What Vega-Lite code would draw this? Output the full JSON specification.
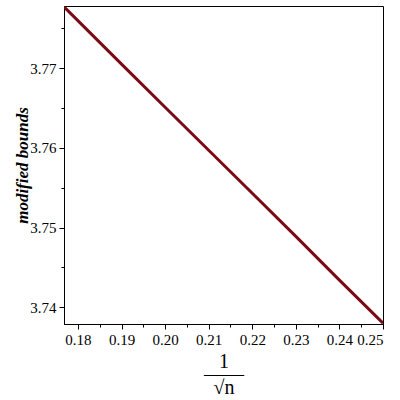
{
  "$schema": "https://vega.github.io/schema/vega-lite/v6.json",
  "autosize": "none",
  "width": 319,
  "height": 318,
  "padding": {"left": 64, "top": 6, "right": 17, "bottom": 76},
  "background": "white",
  "config": {
    "view": {"stroke": "black", "strokeWidth": 1},
    "axis": {
      "grid": false,
      "domainColor": "black",
      "tickColor": "black",
      "labelColor": "black",
      "titleColor": "black"
    }
  },
  "data": {
    "values": [
      {"x": 0.1768, "y": 3.7777},
      {"x": 0.19, "y": 3.7705},
      {"x": 0.20, "y": 3.7651},
      {"x": 0.21, "y": 3.7597},
      {"x": 0.22, "y": 3.7543},
      {"x": 0.23, "y": 3.7489},
      {"x": 0.24, "y": 3.7434},
      {"x": 0.25, "y": 3.7380}
    ]
  },
  "mark": {"type": "line", "color": "#7a0a14", "strokeWidth": 3, "clip": true},
  "encoding": {
    "x": {
      "field": "x",
      "type": "quantitative",
      "scale": {"domain": [0.1768, 0.25], "nice": false, "zero": false},
      "axis": {
        "values": [0.18, 0.185, 0.19, 0.195, 0.2, 0.205, 0.21, 0.215, 0.22, 0.225, 0.23, 0.235, 0.24, 0.245, 0.25],
        "labelExpr": "abs(datum.value*100 - round(datum.value*100)) < 0.000001 ? format(datum.value, '.2f') : ''",
        "tickSize": {"condition": {"test": "abs(datum.value*100 - round(datum.value*100)) < 0.000001", "value": 5}, "value": 3},
        "labelPadding": 3,
        "labelFont": "Liberation Serif",
        "labelFontSize": 15,
        "title": ["1", "——", "√n"],
        "titleFont": "Liberation Serif",
        "titleFontSize": 20,
        "titleFontWeight": "normal",
        "titleLineHeight": 13,
        "titlePadding": 4
      }
    },
    "y": {
      "field": "y",
      "type": "quantitative",
      "scale": {"domain": [3.7379, 3.7778], "nice": false, "zero": false},
      "axis": {
        "values": [3.74, 3.745, 3.75, 3.755, 3.76, 3.765, 3.77, 3.775],
        "labelExpr": "abs(datum.value*100 - round(datum.value*100)) < 0.000001 ? format(datum.value, '.2f') : ''",
        "tickSize": {"condition": {"test": "abs(datum.value*100 - round(datum.value*100)) < 0.000001", "value": 5}, "value": 3},
        "labelPadding": 3,
        "labelFont": "Liberation Serif",
        "labelFontSize": 15,
        "title": "modified bounds",
        "titleFont": "Liberation Serif",
        "titleFontSize": 17,
        "titleFontWeight": "bold",
        "titleFontStyle": "italic",
        "titleX": -42,
        "titleY": 159,
        "titleAlign": "center",
        "titleBaseline": "middle"
      }
    }
  }
}
